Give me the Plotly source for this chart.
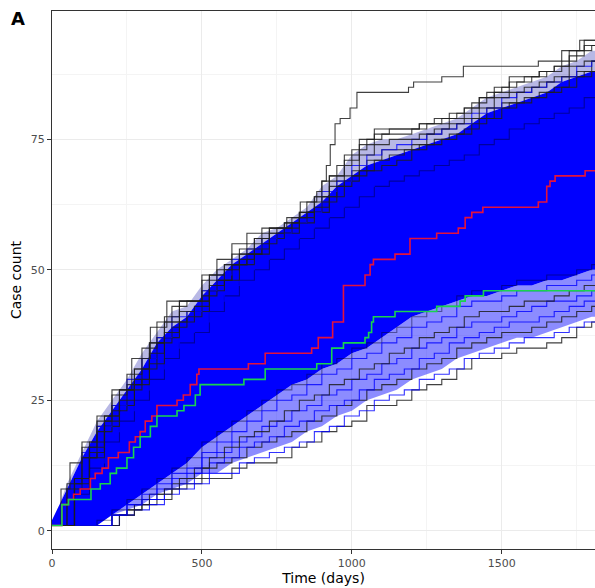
import plotly.graph_objects as go

# ---------------- data ----------------
grid_a = list(range(0, 1801, 50))          # 0..1800
grid_b = list(range(25, 1826, 50))         # offset grid 25..1825

# extent of the dense blue bundle of simulated trajectories
band_top = [2, 8, 14, 19, 23, 27, 31, 36, 39, 41, 45, 48, 51, 53, 55, 57, 59, 61, 63, 66,
            68, 70, 71, 72, 73, 74, 75, 76, 78, 80, 81, 82, 83, 84, 86, 87, 88]
band_bottom = [1, 1, 1, 1, 3, 5, 7, 9, 11, 13, 16, 18, 20, 22, 24, 26, 28, 29, 31, 32,
               34, 35, 37, 39, 41, 42, 43, 44, 45, 45, 46, 47, 47, 48, 48, 49, 50]

# upper fringe trajectories
top_edge = [1, 10, 17, 22, 27, 31, 36, 41, 44, 44, 49, 51, 54, 56, 58, 59, 61, 64, 68, 72,
            75, 77, 77, 77, 78, 79, 80, 81, 83, 85, 87, 87, 88, 89, 92, 94, 95]
top_7 = [1, 10, 16, 22, 27, 31, 36, 40, 44, 44, 49, 51, 53, 56, 58, 59, 61, 64, 68, 71,
         74, 76, 77, 77, 78, 78, 79, 81, 83, 84, 86, 87, 88, 89, 91, 93, 94]
top_1 = [1, 9, 16, 21, 26, 30, 35, 40, 43, 44, 48, 50, 53, 55, 57, 58, 60, 63, 67, 70,
         73, 75, 76, 76, 77, 78, 79, 80, 82, 84, 85, 86, 87, 88, 90, 92, 93]
top_2 = [1, 9, 15, 21, 25, 29, 34, 38, 42, 43, 47, 50, 52, 54, 57, 58, 60, 62, 66, 68,
         72, 74, 75, 75, 76, 77, 78, 79, 81, 83, 84, 85, 86, 87, 89, 90, 92]
top_3 = [1, 8, 15, 20, 24, 29, 33, 37, 41, 42, 46, 49, 52, 54, 56, 57, 59, 61, 65, 67,
         70, 72, 73, 74, 75, 76, 77, 78, 80, 81, 83, 84, 85, 86, 87, 89, 90]
top_8 = [1, 8, 14, 20, 24, 28, 33, 37, 40, 42, 46, 48, 51, 53, 56, 57, 59, 61, 64, 67,
         69, 71, 73, 73, 74, 76, 77, 78, 79, 81, 82, 84, 85, 86, 87, 88, 90]
top_4 = [1, 8, 14, 20, 24, 28, 32, 37, 40, 42, 46, 48, 51, 53, 56, 57, 59, 61, 64, 67,
         69, 71, 72, 73, 74, 75, 76, 77, 79, 81, 82, 83, 84, 85, 87, 88, 89]
top_5 = [1, 8, 14, 19, 23, 27, 31, 36, 39, 41, 45, 48, 51, 53, 55, 57, 59, 61, 63, 66,
         68, 69, 70, 71, 73, 74, 75, 76, 78, 79, 81, 82, 83, 84, 85, 87, 88]
top_6 = [1, 8, 13, 19, 23, 27, 31, 35, 38, 40, 44, 47, 50, 52, 55, 56, 58, 60, 62, 65,
         66, 68, 69, 70, 71, 72, 74, 75, 77, 78, 80, 81, 82, 83, 84, 86, 87]

# trajectories inside the bundle (darker texture)
inner_1 = [1, 7, 12, 17, 21, 25, 29, 33, 36, 38, 42, 45, 48, 50, 52, 54, 56, 58, 60, 62,
           64, 66, 67, 68, 69, 70, 71, 72, 74, 75, 77, 78, 79, 80, 81, 83, 84]
inner_2 = [1, 1, 1, 2, 4, 6, 8, 10, 12, 14, 17, 19, 21, 23, 25, 27, 28, 30, 32, 33,
           35, 36, 38, 39, 41, 42, 43, 45, 46, 46, 47, 48, 48, 49, 49, 50, 51]

# lower fringe trajectories
low_edge = [1, 1, 1, 1, 3, 4, 5, 6, 8, 9, 10, 10, 12, 13, 13, 14, 16, 17, 19, 20,
            21, 24, 24, 25, 27, 28, 29, 31, 33, 33, 34, 35, 35, 36, 37, 39, 40]
low_1 = [1, 1, 1, 1, 3, 4, 5, 7, 8, 9, 11, 11, 13, 14, 15, 16, 17, 19, 20, 22,
         23, 25, 26, 27, 29, 30, 31, 33, 34, 35, 36, 37, 37, 38, 39, 40, 41]
low_2 = [1, 1, 1, 1, 3, 4, 6, 7, 9, 10, 12, 13, 14, 16, 17, 18, 19, 21, 22, 24,
         25, 27, 28, 29, 31, 32, 33, 35, 36, 37, 38, 38, 39, 40, 41, 42, 43]
low_3 = [1, 1, 1, 1, 3, 5, 6, 8, 9, 11, 13, 14, 16, 17, 18, 20, 21, 23, 24, 25,
         27, 29, 30, 31, 33, 34, 36, 37, 38, 39, 40, 40, 41, 42, 43, 44, 44]
low_4 = [1, 1, 1, 1, 3, 5, 6, 8, 10, 11, 14, 15, 17, 18, 20, 21, 23, 24, 26, 27,
         29, 30, 32, 33, 35, 36, 37, 39, 40, 40, 41, 42, 43, 44, 44, 45, 46]
low_5 = [1, 1, 1, 1, 3, 5, 7, 8, 10, 12, 14, 16, 18, 19, 21, 23, 25, 26, 28, 29,
         31, 32, 34, 35, 37, 38, 39, 41, 42, 42, 43, 44, 44, 45, 46, 47, 47]
low_6 = [1, 1, 1, 1, 3, 5, 7, 9, 11, 12, 15, 17, 19, 21, 23, 25, 26, 28, 30, 31,
         33, 34, 36, 37, 39, 40, 41, 43, 44, 44, 45, 46, 46, 47, 47, 48, 49]

# single outlying trajectory (step events: day, count)
outlier_days = [0, 30, 60, 100, 150, 200, 266, 328, 383, 500, 550, 600, 650, 700, 783,
                828, 883, 900, 915, 928, 944, 961, 994, 1017, 1189, 1206, 1300, 1372,
                1622, 1700, 1760, 1825]
outlier_counts = [1, 8, 13, 17, 22, 27, 33, 39, 44, 49, 52, 55, 57, 58, 60,
                  63, 65, 67, 70, 74, 78, 79, 81, 84, 85, 86, 87, 89,
                  90, 92, 94, 95]

# highlighted trajectories (step events)
red_days = [0, 33, 55, 72, 94, 128, 144, 167, 188, 221, 258, 278, 294, 311, 333, 350,
            417, 438, 461, 483, 490, 655, 711, 866, 888, 936, 972, 1044, 1061, 1072,
            1144, 1194, 1283, 1355, 1378, 1400, 1437, 1622, 1650, 1661, 1678, 1778, 1825]
red_counts = [1, 5, 6, 7, 8, 10, 11, 12, 14, 15, 17, 18, 19, 21, 22, 24,
              25, 26, 28, 30, 31, 32, 34, 35, 37, 40, 47, 49, 51, 52,
              53, 56, 57, 58, 60, 61, 62, 63, 66, 67, 68, 69, 69]

green_days = [0, 33, 55, 130, 161, 194, 215, 250, 272, 294, 328, 350, 417, 440, 478,
              494, 640, 711, 883, 933, 972, 1044, 1056, 1066, 1072, 1144, 1283, 1361,
              1378, 1439, 1825]
green_counts = [1, 5, 6, 8, 9, 11, 12, 14, 16, 18, 20, 22, 23, 24, 26,
                28, 29, 31, 32, 35, 36, 37, 38, 40, 41, 42, 43, 44,
                45, 46, 46]

x_ticks = [0, 500, 1000, 1500]
y_ticks = [0, 25, 50, 75]

# ---------------- styling ----------------
FONT = "DejaVu Sans"
BLACK_LINE = "rgba(30,30,30,0.85)"
DARK_INNER = "rgba(0,0,40,0.45)"
BLUE_LINE = "rgba(0,0,255,0.8)"
BAND = "#0000FF"
SPARSE_TOP = "rgba(20,20,170,0.30)"
SPARSE_LOW = "rgba(0,0,255,0.45)"


def held(xs, ys, end):
    """a step function holds its last value until the end of follow-up"""
    return list(xs) + [end], list(ys) + [ys[-1]]


def add_fill(lo, hi, color):
    lx, ly = held(grid_a, lo, 1825)
    hx, hy = held(grid_a, hi, 1825)
    fig.add_trace(go.Scatter(x=lx, y=ly, mode="lines", line=dict(width=0),
                             hoverinfo="skip", showlegend=False))
    fig.add_trace(go.Scatter(x=hx, y=hy, mode="lines", line=dict(width=0),
                             fill="tonexty", fillcolor=color,
                             hoverinfo="skip", showlegend=False))


fig = go.Figure()

# sparse fringe zones, then dense bundle
add_fill(low_1, band_bottom, SPARSE_LOW)
add_fill(band_top, top_2, SPARSE_TOP)
add_fill(band_bottom, band_top, BAND)

fringe = [
    (grid_b, inner_1, DARK_INNER), (grid_a, inner_2, DARK_INNER),
    (grid_a, low_edge, BLACK_LINE), (grid_b, low_1, BLUE_LINE), (grid_a, low_2, BLACK_LINE),
    (grid_b, low_3, BLUE_LINE), (grid_a, low_4, BLUE_LINE), (grid_b, low_5, BLACK_LINE),
    (grid_a, low_6, BLUE_LINE),
    (grid_b, top_6, BLUE_LINE), (grid_a, top_5, BLACK_LINE), (grid_b, top_4, BLACK_LINE),
    (grid_a, top_8, BLACK_LINE), (grid_a, top_3, BLUE_LINE), (grid_b, top_2, BLACK_LINE),
    (grid_a, top_1, BLACK_LINE), (grid_b, top_7, BLACK_LINE), (grid_b, top_edge, BLACK_LINE),
]
for gx, vals, col in fringe:
    xs, ys = held(gx, vals, 1850)
    fig.add_trace(go.Scatter(x=xs, y=ys, mode="lines",
                             line=dict(color=col, width=1.1, shape="hv"),
                             hoverinfo="skip", showlegend=False))

fig.add_trace(go.Scatter(x=outlier_days, y=outlier_counts, mode="lines",
                         line=dict(color=BLACK_LINE, width=1.1, shape="hv"),
                         hoverinfo="skip", showlegend=False))
fig.add_trace(go.Scatter(x=red_days, y=red_counts, mode="lines",
                         line=dict(color="#E3123C", width=1.6, shape="hv"),
                         hoverinfo="skip", showlegend=False))
fig.add_trace(go.Scatter(x=green_days, y=green_counts, mode="lines",
                         line=dict(color="#19D34F", width=1.6, shape="hv"),
                         hoverinfo="skip", showlegend=False))

axis_common = dict(
    showgrid=True, gridcolor="#EBEBEB", gridwidth=1,
    zeroline=False, showline=True, linecolor="#333333", linewidth=1,
    ticks="outside", ticklen=4, tickwidth=1, tickcolor="#333333",
    tickfont=dict(family=FONT, size=11, color="#4D4D4D"),
)

fig.update_xaxes(**axis_common, range=[0, 1811], tickvals=x_ticks, mirror=True,
                 minor=dict(dtick=250, tick0=0, showgrid=True, gridcolor="#F4F4F4", ticks=""),
                 title=dict(text="Time (days)", font=dict(family=FONT, size=14, color="#000000"),
                            standoff=3))
fig.update_yaxes(**axis_common, range=[-3.5, 99.6], tickvals=y_ticks,
                 minor=dict(dtick=12.5, tick0=0, showgrid=True, gridcolor="#F4F4F4", ticks=""),
                 title=dict(text="Case count", font=dict(family=FONT, size=14, color="#000000"),
                            standoff=5))

fig.add_annotation(text="<b>A</b>", xref="paper", yref="paper", x=-0.0626, y=0.986,
                   xanchor="center", yanchor="middle", showarrow=False,
                   font=dict(family=FONT, size=18, color="#000000"))

fig.update_layout(width=595, height=588, margin=dict(l=52, r=0, t=11, b=39),
                  paper_bgcolor="white", plot_bgcolor="white", showlegend=False)

fig.write_html("out.html", config={"displayModeBar": False})
